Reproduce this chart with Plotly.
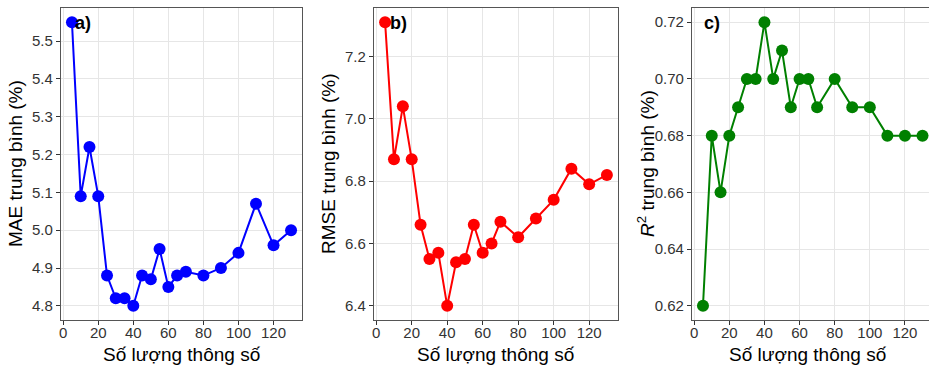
import plotly.graph_objects as go

so_thong_so = [5, 10, 15, 20, 25, 30, 35, 40, 45, 50, 55, 60, 65, 70, 80, 90, 100, 110, 120, 130]
mae = [5.55, 5.09, 5.22, 5.09, 4.88, 4.82, 4.82, 4.80, 4.88, 4.87, 4.95, 4.85, 4.88, 4.89, 4.88, 4.90, 4.94, 5.07, 4.96, 5.00]
rmse = [7.31, 6.87, 7.04, 6.87, 6.66, 6.55, 6.57, 6.40, 6.54, 6.55, 6.66, 6.57, 6.60, 6.67, 6.62, 6.68, 6.74, 6.84, 6.79, 6.82]
r2 = [0.62, 0.68, 0.66, 0.68, 0.69, 0.70, 0.70, 0.72, 0.70, 0.71, 0.69, 0.70, 0.70, 0.69, 0.70, 0.69, 0.69, 0.68, 0.68, 0.68]

x_ticks = [0, 20, 40, 60, 80, 100, 120]
mae_ticks = [4.8, 4.9, 5.0, 5.1, 5.2, 5.3, 5.4, 5.5]
rmse_ticks = [6.4, 6.6, 6.8, 7.0, 7.2]
r2_ticks = [0.62, 0.64, 0.66, 0.68, 0.70, 0.72]

x_title = "Số lượng thông số"
y_titles = ["MAE trung bình (%)", "RMSE trung bình (%)", "<i>R</i><sup>2</sup> trung bình (%)"]
panel_labels = ["a)", "b)", "c)"]
colors = ["#0000FF", "#FF0000", "#008000"]

W, H = 929, 366
FONT = "Liberation Sans, Arial, sans-serif"

panels = [
    dict(left=61, right=302, y=mae, ticks=mae_ticks, fmt=".1f", yr=[4.7625, 5.5875], xr=[-1.25, 136.25], mirror_y=True),
    dict(left=374, right=618, y=rmse, ticks=rmse_ticks, fmt=".1f", yr=[6.3545, 7.3555], xr=[-1.25, 136.25], mirror_y=True),
    dict(left=692, right=929, y=r2, ticks=r2_ticks, fmt=".2f", yr=[0.615, 0.725], xr=[-1.25, 133.7], mirror_y=False),
]
top, bottom = 8, 320
ydom = [(H - bottom) / H, (H - top) / H]

fig = go.Figure()
annotations = []
for i, p in enumerate(panels):
    sfx = "" if i == 0 else str(i + 1)
    fig.add_trace(go.Scatter(
        x=so_thong_so, y=p["y"], mode="lines+markers",
        line=dict(color=colors[i], width=2),
        marker=dict(color=colors[i], size=12),
        xaxis="x" + sfx, yaxis="y" + sfx, showlegend=False,
    ))
    axis_common = dict(
        showline=True, linecolor="#555555", linewidth=1.2,
        showgrid=True, gridcolor="#E6E6E6", gridwidth=1,
        ticks="outside", ticklen=4, tickcolor="#333333",
        tickfont=dict(family=FONT, size=15, color="#333333"),
        zeroline=False, automargin=False,
    )
    fig.update_layout(**{
        "xaxis" + sfx: dict(
            domain=[p["left"] / W, p["right"] / W], anchor="y" + sfx,
            range=p["xr"], tickvals=x_ticks, mirror=True,
            ticklabelstandoff=-5, **axis_common),
        "yaxis" + sfx: dict(
            domain=ydom, anchor="x" + sfx, range=p["yr"],
            tickvals=p["ticks"], tickformat=p["fmt"], mirror=p["mirror_y"], **axis_common),
    })
    cx = (p["left"] + (p["right"] if i < 2 else 924)) / 2
    annotations.append(dict(
        text=x_title, xref="paper", yref="paper", x=cx / W, y=(H - 354) / H,
        showarrow=False, xanchor="center", yanchor="middle",
        font=dict(family=FONT, size=19, color="#000000")))
    annotations.append(dict(
        text=y_titles[i], xref="paper", yref="paper", x=(p["left"] - 46) / W, y=(H - 164) / H,
        showarrow=False, xanchor="center", yanchor="middle", textangle=-90,
        font=dict(family=FONT, size=19, color="#000000")))
    annotations.append(dict(
        text="<b>" + panel_labels[i] + "</b>", xref="paper", yref="paper",
        x=(p["left"] + [12, 14, 10][i]) / W, y=(H - 23) / H,
        showarrow=False, xanchor="left", yanchor="middle",
        font=dict(family=FONT, size=18, color="#000000")))

fig.update_layout(
    width=W, height=H,
    margin=dict(l=0, r=0, t=0, b=0),
    paper_bgcolor="white", plot_bgcolor="white",
    annotations=annotations,
)
fig.write_html("out.html")
